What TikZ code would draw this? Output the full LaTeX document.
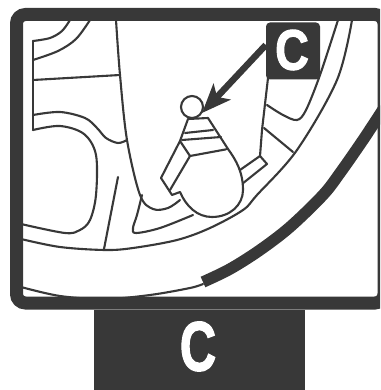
\documentclass[tikz,border=0pt]{standalone}
\usepackage{fontspec}
\setmainfont{Liberation Sans}[BoldFeatures={FakeBold=2}]
\usetikzlibrary{arrows.meta}
\definecolor{ink}{HTML}{383838}
\tikzset{
  fine/.style={draw=ink,line width=2.1pt,line join=round,line cap=round},
  curve/.style={fine,smooth,tension=0.55},
  letter/.style={text=white,font=\bfseries,inner sep=0pt},
}
\begin{document}
\begin{tikzpicture}[x=1pt,y=-1pt]
\useasboundingbox (0,0) rectangle (380,390);
\clip (0,0) rectangle (380,390);
\fill[white] (0,0) rectangle (380,390);
% wheel spokes and rim
\draw[curve] plot coordinates {(33,41) (50,38) (62,31) (70,20)};
\draw[curve] plot coordinates {(33,60) (58,51) (76,39) (90,20)};
\draw[fine] (33,41) -- (33,130);
\draw[fine] (33,80) -- (120,75);
\draw[curve] plot coordinates {(116,20) (120,75) (127,140) (140,195) (153,209) (168,208) (180,200)};
\draw[curve] plot coordinates {(33,115) (60,112) (85,118) (97,128) (106,138) (118,143) (127,140)};
\draw[curve] plot coordinates {(33,130) (60,126) (84,134) (96,155) (96,195) (90,220) (80,230) (65,233) (21,224)};
\draw[curve] plot coordinates {(21,239) (60,247) (105,250) (133,248) (177,240) (210,228) (243,210) (257,195) (297,150) (337,80) (352,20)};
\draw[fine] (118,177) -- (104,249);
\draw[curve] plot coordinates {(142,195) (137,215) (133,228) (136,233) (160,228) (193,215)};
\draw[curve] plot coordinates {(21,287) (60,296) (105,299) (150,295) (190,288) (203,284)};
\draw[draw=ink,line width=11.5pt,smooth,tension=0.55] plot coordinates {(203,282) (230,269) (260,250) (290,227) (323,195) (340,173) (363,140) (384,108)};
% right-hand spokes
\draw[curve] plot coordinates {(338,20) (320,75) (306,110) (297,120) (283,115) (267,105)};
\draw[fine] (268,78) -- (262,130) -- (260,156) -- (267,164) -- (242,184);
\draw[fine] (260,156) -- (240,170);
\draw[fine] (264,128) -- (293,152);
% valve
\node[circle,draw=ink,line width=2.1pt,minimum size=22pt,inner sep=0pt,fill=white] (valve) at (192,107) {};
\draw[fine] (188,119) -- (180,141) -- (190,156) -- (228,149) -- (208,118) -- cycle;
\draw[fine] (185,133) -- (213,130);
\draw[fine] (182,140) -- (221,137);
\draw[fine] (180,141) -- (161,178) -- (172,195) -- (180,192);
\draw[fine] (190,156) -- (170,190);
\draw[fine,fill=white] (180,192) .. controls (186,206) and (197,217) .. (212,217)
   .. controls (230,217) and (243,205) .. (243,190)
   .. controls (243,172) and (236,160) .. (228,149);
% frame
\draw[draw=ink,line width=13pt,rounded corners=9pt] (16.5,14.5) rectangle (384,303);
% tab
\node[fill=ink,minimum width=211pt,minimum height=81pt,inner sep=0pt] (tab) at (199.5,350.5) {};
\node[letter,font=\bfseries\fontsize{70}{70}\selectfont,xscale=0.72] (tabC) at (198,346.5) {C};
% callout
\node[fill=ink,rounded corners=4pt,minimum width=54pt,minimum height=57pt,inner sep=0pt] (cbox) at (293,51) {};
\node[letter,font=\bfseries\fontsize{57}{57}\selectfont,xscale=0.82] (cC) at (292,50) {C};
\coordinate (tip) at (202,113);
\draw[draw=ink,line width=6.5pt,-{Stealth[length=29pt,width=23pt,inset=7pt]}] (cbox.west) ++(0,-6) -- (tip);
\end{tikzpicture}
\end{document}
